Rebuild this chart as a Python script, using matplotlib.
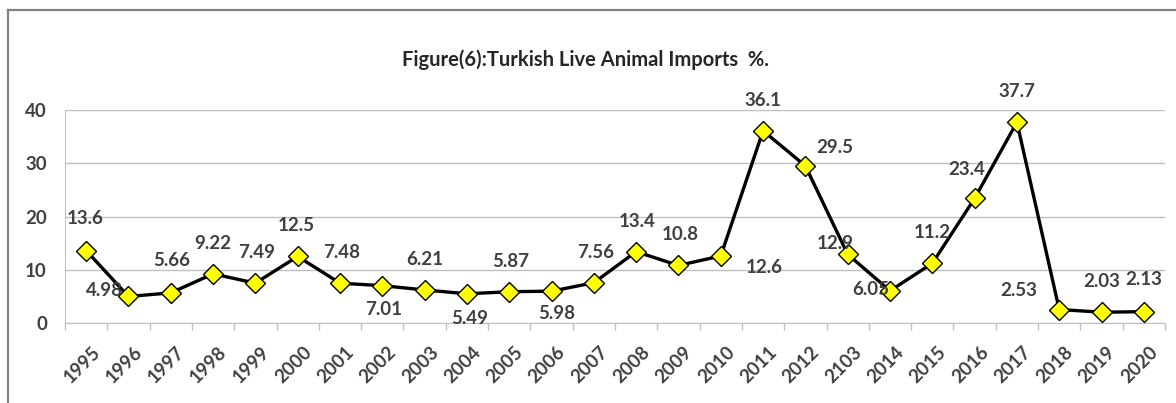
import matplotlib
matplotlib.use("Agg")
import matplotlib.pyplot as plt
from matplotlib.lines import Line2D
from matplotlib.transforms import ScaledTranslation

plt.rcParams['font.family'] = ['Lato', 'DejaVu Sans']

years = ["1995", "1996", "1997", "1998", "1999", "2000", "2001", "2002", "2003",
         "2004", "2005", "2006", "2007", "2008", "2009", "2010", "2011", "2012",
         "2103", "2014", "2015", "2016", "2017", "2018", "2019", "2020"]
values = [13.6, 4.98, 5.66, 9.22, 7.49, 12.5, 7.48, 7.01, 6.21,
          5.49, 5.87, 5.98, 7.56, 13.4, 10.8, 12.6, 36.1, 29.5,
          12.9, 6.05, 11.2, 23.4, 37.7, 2.53, 2.03, 2.13]
value_text = ["13.6", "4.98", "5.66", "9.22", "7.49", "12.5", "7.48", "7.01", "6.21",
              "5.49", "5.87", "5.98", "7.56", "13.4", "10.8", "12.6", "36.1", "29.5",
              "12.9", "6.05", "11.2", "23.4", "37.7", "2.53", "2.03", "2.13"]
yticks = [0, 10, 20, 30, 40]

# label offsets in points (dx, dy) relative to each marker
label_offsets = [(-1, 23), (-17, 4), (1, 23), (0, 22), (1, 22), (-1, 22), (1, 22), (1, -17),
                 (0, 22), (2, -18), (1, 22), (4, -16), (1, 22), (1, 22), (1, 22), (31, -8),
                 (0, 22), (21, 13), (-9, 8), (-14, 1), (0, 22), (-6, 21), (0, 22), (-29, 14),
                 (0, 22), (0, 23)]

fig = plt.figure(figsize=(11.76, 4.03), dpi=100)
ax = fig.add_axes([65 / 1176, 80 / 403, 1100 / 1176, 213 / 403])

x = list(range(len(years)))
ax.plot(x, values, color="black", lw=2.4, marker="D", markersize=10,
        markerfacecolor="#FFFF00", markeredgecolor="black", markeredgewidth=1.0,
        zorder=3)

ax.set_xlim(-0.5, len(years) - 0.5)
ax.set_ylim(0, 40)
ax.set_yticks(yticks)
ax.set_yticklabels([str(t) for t in yticks], fontsize=13.5, fontweight="bold", color="#404040")
ax.yaxis.grid(True, color="#BFBFBF", lw=1)
ax.set_axisbelow(True)
ax.tick_params(axis="y", length=0, pad=13)

# category labels centred on points, tick marks between categories
ax.set_xticks(x)
ax.set_xticklabels(years, rotation=45, ha="right", rotation_mode="anchor",
                   fontsize=13.5, fontweight="bold", color="#404040")
ax.tick_params(axis="x", which="major", length=0, pad=15)
shift = ScaledTranslation(5 / 100, 0, fig.dpi_scale_trans)
for lbl in ax.get_xticklabels():
    lbl.set_transform(lbl.get_transform() + shift)
ax.set_xticks([i - 0.5 for i in range(len(years) + 1)], minor=True)
ax.tick_params(axis="x", which="minor", length=5, color="#BFBFBF", width=1)

for side in ("top", "right"):
    ax.spines[side].set_visible(False)
ax.spines["left"].set_color("#BFBFBF")
ax.spines["bottom"].set_color("#BFBFBF")

for xi, v, t, (dx, dy) in zip(x, values, value_text, label_offsets):
    ax.annotate(t, (xi, v), xytext=(dx, dy), textcoords="offset points",
                ha="center", va="center", fontsize=13.5, fontweight="bold",
                color="#404040", zorder=4)

fig.text(585 / 1176, 1 - 60 / 403, "Figure(6):Turkish Live Animal Imports  %.",
         ha="center", va="center", fontsize=14.5, fontweight="bold", color="#262626")

# outer chart frame
fig.add_artist(Line2D([8 / 1176, 8 / 1176], [0, 1 - 10 / 403], transform=fig.transFigure,
                      color="#808080", lw=1.6))
fig.add_artist(Line2D([8 / 1176, 1], [1 - 10 / 403, 1 - 10 / 403], transform=fig.transFigure,
                      color="#808080", lw=1.6))

fig.savefig("out.png", dpi=100)
